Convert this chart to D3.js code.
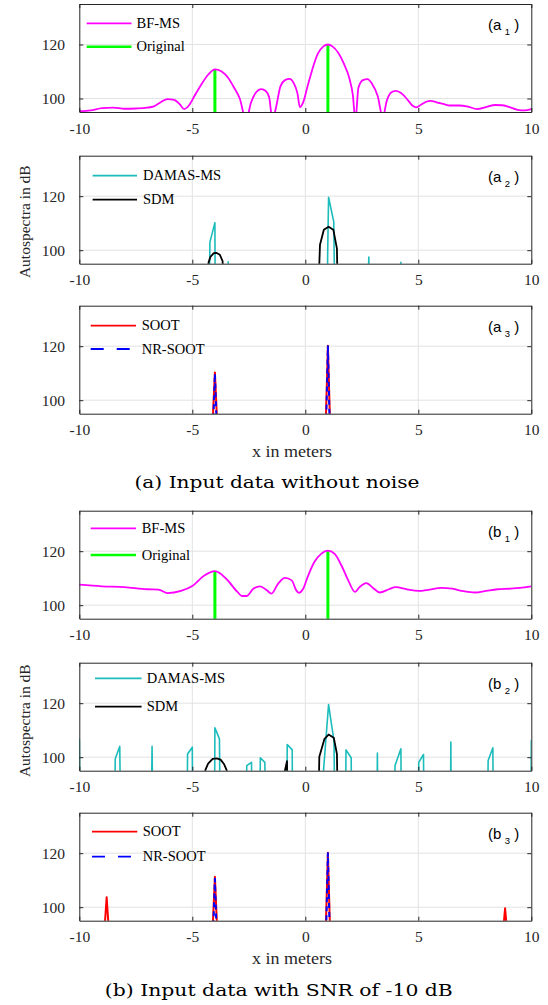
<!DOCTYPE html>
<html><head><meta charset="utf-8">
<script src="https://cdn.jsdelivr.net/npm/d3@7"></script>
<style>body{margin:0;background:#fff} svg{display:block}</style>
</head><body>
<script>
// ---------- data ----------
const xTicks = [-10, -5, 0, 5, 10];
const yTicks = [100, 120];
const xDomain = [-10, 10];
const yDomain = [95, 135];

// (a1) beamforming map, no noise
const bfA_x = [-10,-9.5,-9,-8.5,-8,-7.5,-7,-6.7,-6.4,-6.1,-5.8,-5.55,-5.36,-5.15,-4.9,-4.6,-4.3,-4.0,-3.7,-3.4,-3.15,-2.9,-2.62,-2.4,-2.2,-1.95,-1.75,-1.6,-1.45,-1.3,-1.1,-0.9,-0.7,-0.5,-0.35,-0.24,-0.1,0.1,0.3,0.55,0.8,1.0,1.2,1.45,1.7,1.95,2.1,2.22,2.35,2.55,2.75,2.95,3.2,3.43,3.6,3.8,4.0,4.2,4.5,4.75,4.9,5.1,5.35,5.55,5.8,6.1,6.4,6.8,7.2,7.6,8.0,8.4,8.7,9.0,9.4,9.7,10];
const bfA_y = [95.3,95.6,96.4,96.6,96.2,96.3,96.6,97.1,98.6,99.8,99.5,97.8,96.1,97.4,101.0,105.2,108.8,110.8,110.0,107.5,104.0,100.0,92,98.5,102.0,103.5,102.8,100.5,92,96.5,104.5,106.8,107.3,105.5,102,96.8,98.5,104.5,110.5,116.5,119.3,120.0,119.3,117.0,113.0,107.5,101.5,92,104.0,106.8,107.2,105.5,101.0,93,99.0,102.2,102.8,102.2,99.8,97.3,96.7,97.6,98.8,99.1,98.6,98.0,97.4,97.4,97.0,96.1,96.8,97.6,97.5,96.9,95.8,95.6,96.1];
const origA_x = [-4, 1];
const origA_y = [110.8, 120];

// (a2)
const damasA_x = [-4.24,-4.22,-4.0,-3.99,-3.42,-3.41,-3.40,0.98,0.99,1.03,1.26,1.29,2.79,2.81,2.83,4.22,4.23,4.24];
const damasA_y = [90,103,110.2,90,90,95.7,90,90,99,119.6,110.5,90,90,97.5,90,90,95.5,90];
const sdmA_x = [-4.31,-4.28,-4.2,-4.05,-3.92,-3.78,-3.66,-3.63,0.60,0.65,0.82,1.03,1.24,1.40,1.42];
const sdmA_y = [90,95.5,97.5,98.9,99.0,98.3,96.0,90,90,102,107.6,108.7,107.6,100.6,90];

// (a3)
const sootA_x = [-4.11,-4.0,-3.89,0.9,1.0,1.1];
const sootA_y = [90,110.3,90,90,120.2,90];
const nrsootA_x = [-4.08,-4.0,-3.92,0.92,1.0,1.08];
const nrsootA_y = [90,109.8,90,90,120,90];

// (b1) beamforming map, SNR -10 dB
const bfB_x = [-10,-9,-8,-7,-6.5,-6.1,-5.5,-5,-4.5,-4,-3.5,-3,-2.8,-2.6,-2.3,-2,-1.7,-1.5,-1.2,-0.9,-0.6,-0.4,-0.28,-0.1,0.1,0.4,0.7,1.0,1.3,1.6,1.9,2.2,2.4,2.7,3.0,3.3,3.7,4.0,4.5,5.0,5.5,6.0,6.5,7.0,7.5,8.0,8.5,9.0,9.5,10];
const bfB_y = [107.6,107.0,106.7,105.9,105.8,104.5,105.3,107.1,110.8,112.6,109.8,104.9,103.4,103.4,106.1,107.0,105.5,104.3,108.0,110.1,109.2,105.5,104.6,106.0,110.4,116.0,119.0,120.2,119.0,114.7,109.2,104.9,106.7,108.2,106.4,104.7,105.9,106.7,105.9,105.3,105.8,106.4,106.1,105.2,104.7,105.3,105.9,106.1,106.4,107.0];
const origB_x = [-4, 1];
const origB_y = [112.6, 120];

// (b2)
const damasB_x = [-10,-9.98,-8.42,-8.41,-8.21,-8.19,-6.80,-6.78,-6.76,-5.22,-5.21,-5.0,-4.99,-4.01,-4.0,-3.8,-3.78,-2.60,-2.59,-2.38,-2.37,-2.0,-1.99,-1.79,-1.78,-0.81,-0.80,-0.58,-0.57,0.76,1.03,1.27,1.29,1.79,1.80,2.03,2.04,3.18,3.19,3.20,3.96,3.97,4.23,4.24,5.01,5.02,5.23,5.24,6.43,6.44,6.45,8.08,8.09,8.30,8.31,9.99,10];
const damasB_y = [106.8,90,90,99.4,104,90,90,104,90,90,101.2,103.7,90,90,110.9,106.8,90,90,96.9,98.1,90,90,99.8,98.1,90,90,104.7,102.7,90,90,119.5,106,90,90,102.7,99.8,90,90,101.5,90,90,96.9,103.1,90,90,98.1,101,90,90,105.6,90,90,98.8,103.5,90,90,106.4];
const sdmB_x = [-4.46,-4.42,-4.3,-4.1,-3.92,-3.75,-3.6,-3.48,-3.46,-0.93,-0.81,-0.80,0.60,0.62,0.85,1.03,1.26,1.40,1.42];
const sdmB_y = [90,95.3,97.6,99.4,99.6,99.1,97.5,95.2,90,94,98.5,90,90,100.2,106.8,108.4,107.2,101.2,90];

// (b3)
const sootB_x = [-8.9,-8.79,-8.68,-4.11,-4.0,-3.89,0.9,1.0,1.1,8.74,8.84,8.94];
const sootB_y = [90,103.7,90,90,111.3,90,90,120.2,90,90,99.6,90];
const nrsootB_x = [-4.08,-4.0,-3.92,0.92,1.0,1.08];
const nrsootB_y = [90,110.5,90,90,120,90];

// ---------- drawing ----------
const W = 548, H = 1005;
const L = 79.3, R = 531.3, PH = 108;
const svg = d3.select('body').append('svg').attr('width', W).attr('height', H);
const x = d3.scaleLinear().domain(xDomain).range([L, R]);
const SERIF = "Liberation Serif";
const SANS = "Liberation Sans";
const AX = '#262626';
const fmt = d => String(d);

const COL = {bf:'#ff00ff', orig:'#00ff00', damas:'#1cbcbc', sdm:'#000000', soot:'#ff0000', nr:'#0000ff'};

const panels = [
  {id:'a1', top:4, lab:['a','1'],
   lines:[{xs:bfA_x, ys:bfA_y, c:COL.bf, w:1.8, smooth:true}],
   sticks:[{xs:origA_x, ys:origA_y, c:COL.orig, w:3}],
   legend:{x1:86.7, x2:131.5, tx:136.5, rows:[19.3,42.7],
     items:[{t:'BF-MS', c:COL.bf, w:1.8},{t:'Original', c:COL.orig, w:2.5}]}},
  {id:'a2', top:155.7, lab:['a','2'], ylabel:true, ylabY:66,
   lines:[{xs:damasA_x, ys:damasA_y, c:COL.damas, w:1.6},{xs:sdmA_x, ys:sdmA_y, c:COL.sdm, w:1.8}],
   legend:{x1:92.6, x2:137, tx:143, rows:[20,44],
     items:[{t:'DAMAS-MS', c:COL.damas, w:1.8},{t:'SDM', c:COL.sdm, w:1.8}]}},
  {id:'a3', top:305.7, lab:['a','3'], xlabel:true, caption:'(a) Input data without noise', capY:482.5, capX:277, capW:285,
   lines:[{xs:sootA_x, ys:sootA_y, c:COL.soot, w:2},{xs:nrsootA_x, ys:nrsootA_y, c:COL.nr, w:2, dash:'5,4'}],
   legend:{x1:90.7, x2:136, tx:141.7, rows:[20,43.3],
     items:[{t:'SOOT', c:COL.soot, w:1.8},{t:'NR-SOOT', c:COL.nr, w:1.8, dash:'13,13'}]}},
  {id:'b1', top:510.7, lab:['b','1'],
   lines:[{xs:bfB_x, ys:bfB_y, c:COL.bf, w:1.8, smooth:true}],
   sticks:[{xs:origB_x, ys:origB_y, c:COL.orig, w:3}],
   legend:{x1:90.7, x2:136, tx:141.7, rows:[17.6,44.3],
     items:[{t:'BF-MS', c:COL.bf, w:1.8},{t:'Original', c:COL.orig, w:2.5}]}},
  {id:'b2', top:662.7, lab:['b','2'], ylabel:true, ylabY:58,
   lines:[{xs:damasB_x, ys:damasB_y, c:COL.damas, w:1.6},{xs:sdmB_x, ys:sdmB_y, c:COL.sdm, w:1.8}],
   legend:{x1:95, x2:141.6, tx:146.8, rows:[15.6,44],
     items:[{t:'DAMAS-MS', c:COL.damas, w:1.8},{t:'SDM', c:COL.sdm, w:1.8}]}},
  {id:'b3', top:812.7, lab:['b','3'], xlabel:true, caption:'(b) Input data with SNR of -10 dB', capY:990, capX:278.8, capW:348,
   lines:[{xs:sootB_x, ys:sootB_y, c:COL.soot, w:2},{xs:nrsootB_x, ys:nrsootB_y, c:COL.nr, w:2, dash:'5,4'}],
   legend:{x1:92, x2:137.3, tx:142.7, rows:[19,44],
     items:[{t:'SOOT', c:COL.soot, w:1.8},{t:'NR-SOOT', c:COL.nr, w:1.8, dash:'13,13'}]}}
];

panels.forEach(p => {
  const top = p.top, bot = top + PH;
  const y = d3.scaleLinear().domain(yDomain).range([bot, top]);
  const g = svg.append('g');

  g.append('rect').attr('x', L).attr('y', top).attr('width', R - L).attr('height', PH).attr('fill', '#fff');

  // grid
  g.append('g').selectAll('line').data(xTicks.filter(t => t > xDomain[0] && t < xDomain[1])).join('line')
    .attr('x1', d => x(d)).attr('x2', d => x(d)).attr('y1', top).attr('y2', bot)
    .attr('stroke', '#e3e3e3').attr('stroke-width', 1);
  g.append('g').selectAll('line').data(yTicks).join('line')
    .attr('x1', L).attr('x2', R).attr('y1', d => y(d)).attr('y2', d => y(d))
    .attr('stroke', '#e3e3e3').attr('stroke-width', 1);

  // clip
  const cid = 'clip-' + p.id;
  svg.append('clipPath').attr('id', cid).append('rect')
    .attr('x', L).attr('y', top).attr('width', R - L).attr('height', PH);
  const data = g.append('g').attr('clip-path', `url(#${cid})`);

  (p.sticks || []).forEach(s => {
    data.append('g').selectAll('line').data(s.xs.map((v, i) => [v, s.ys[i]])).join('line')
      .attr('x1', d => x(d[0])).attr('x2', d => x(d[0]))
      .attr('y1', y(yDomain[0]) + 2).attr('y2', d => y(d[1]))
      .attr('stroke', s.c).attr('stroke-width', s.w);
  });

  p.lines.forEach(s => {
    const pts = s.xs.map((v, i) => [v, s.ys[i]]);
    const line = d3.line().x(d => x(d[0])).y(d => y(d[1]))
      .curve(s.smooth ? d3.curveMonotoneX : d3.curveLinear);
    data.append('path').attr('d', line(pts)).attr('fill', 'none')
      .attr('stroke', s.c).attr('stroke-width', s.w)
      .attr('stroke-linejoin', 'round')
      .attr('stroke-dasharray', s.dash || null);
  });

  // axes (ticks inward)
  const axB = g.append('g').attr('transform', `translate(0,${bot})`)
    .call(d3.axisBottom(x).tickValues(xTicks).tickFormat(fmt).tickSizeInner(-4).tickSizeOuter(0).tickPadding(6));
  const axT = g.append('g').attr('transform', `translate(0,${top})`)
    .call(d3.axisTop(x).tickValues(xTicks).tickSizeInner(-4).tickSizeOuter(0).tickFormat(''));
  const axL = g.append('g').attr('transform', `translate(${L},0)`)
    .call(d3.axisLeft(y).tickValues(yTicks).tickFormat(fmt).tickSizeInner(-4).tickSizeOuter(0).tickPadding(14));
  const axRt = g.append('g').attr('transform', `translate(${R},0)`)
    .call(d3.axisRight(y).tickValues(yTicks).tickSizeInner(-4).tickSizeOuter(0).tickFormat(''));
  [axB, axT, axL, axRt].forEach(a => {
    a.select('.domain').attr('stroke', AX).attr('stroke-width', 1);
    a.selectAll('.tick line').attr('stroke', AX).attr('stroke-width', 1);
    a.selectAll('text').attr('font-family', SERIF).attr('font-size', 15.5).attr('fill', AX);
  });
  axB.selectAll('text').attr('dy', null).attr('y', 21.5);
  axL.selectAll('text').attr('x', 65 - L).attr('dy', '0.33em');

  // legend
  const lg = p.legend;
  lg.items.forEach((it, i) => {
    const yy = top + lg.rows[i];
    g.append('line').attr('x1', lg.x1).attr('x2', lg.x2).attr('y1', yy).attr('y2', yy)
      .attr('stroke', it.c).attr('stroke-width', it.w).attr('stroke-dasharray', it.dash || null);
    g.append('text').attr('x', lg.tx).attr('y', yy).attr('dy', '0.33em')
      .attr('font-family', SERIF).attr('font-size', 14.5).attr('fill', '#000').text(it.t);
  });

  // panel label
  const t = g.append('text').attr('x', 488).attr('y', top + 26.3)
    .attr('font-family', SANS).attr('font-size', 15).attr('fill', '#000');
  t.append('tspan').text('(' + p.lab[0]);
  t.append('tspan').attr('font-size', 9.5).attr('dx', 3.5).attr('dy', 5).text(p.lab[1]);
  t.append('tspan').attr('dx', 4).attr('dy', -5).text(')');

  if (p.ylabel) {
    g.append('text').attr('transform', `translate(24,${top + p.ylabY}) rotate(-90)`)
      .attr('text-anchor', 'middle').attr('dominant-baseline', 'central')
      .attr('font-family', SERIF).attr('font-size', 15.5).attr('fill', AX).text('Autospectra in dB');
  }
  if (p.xlabel) {
    g.append('text').attr('x', 292).attr('y', bot + 43)
      .attr('text-anchor', 'middle')
      .attr('font-family', SERIF).attr('font-size', 16.5).attr('fill', AX)
      .attr('textLength', 80).attr('lengthAdjust', 'spacingAndGlyphs').text('x in meters');
  }
  if (p.caption) {
    g.append('text').attr('x', p.capX).attr('y', p.capY).attr('dy', '0.35em')
      .attr('text-anchor', 'middle')
      .attr('font-family', 'DejaVu Serif').attr('font-size', 17).attr('fill', '#000')
      .attr('textLength', p.capW).attr('lengthAdjust', 'spacingAndGlyphs').text(p.caption);
  }
});
</script>
</body></html>
